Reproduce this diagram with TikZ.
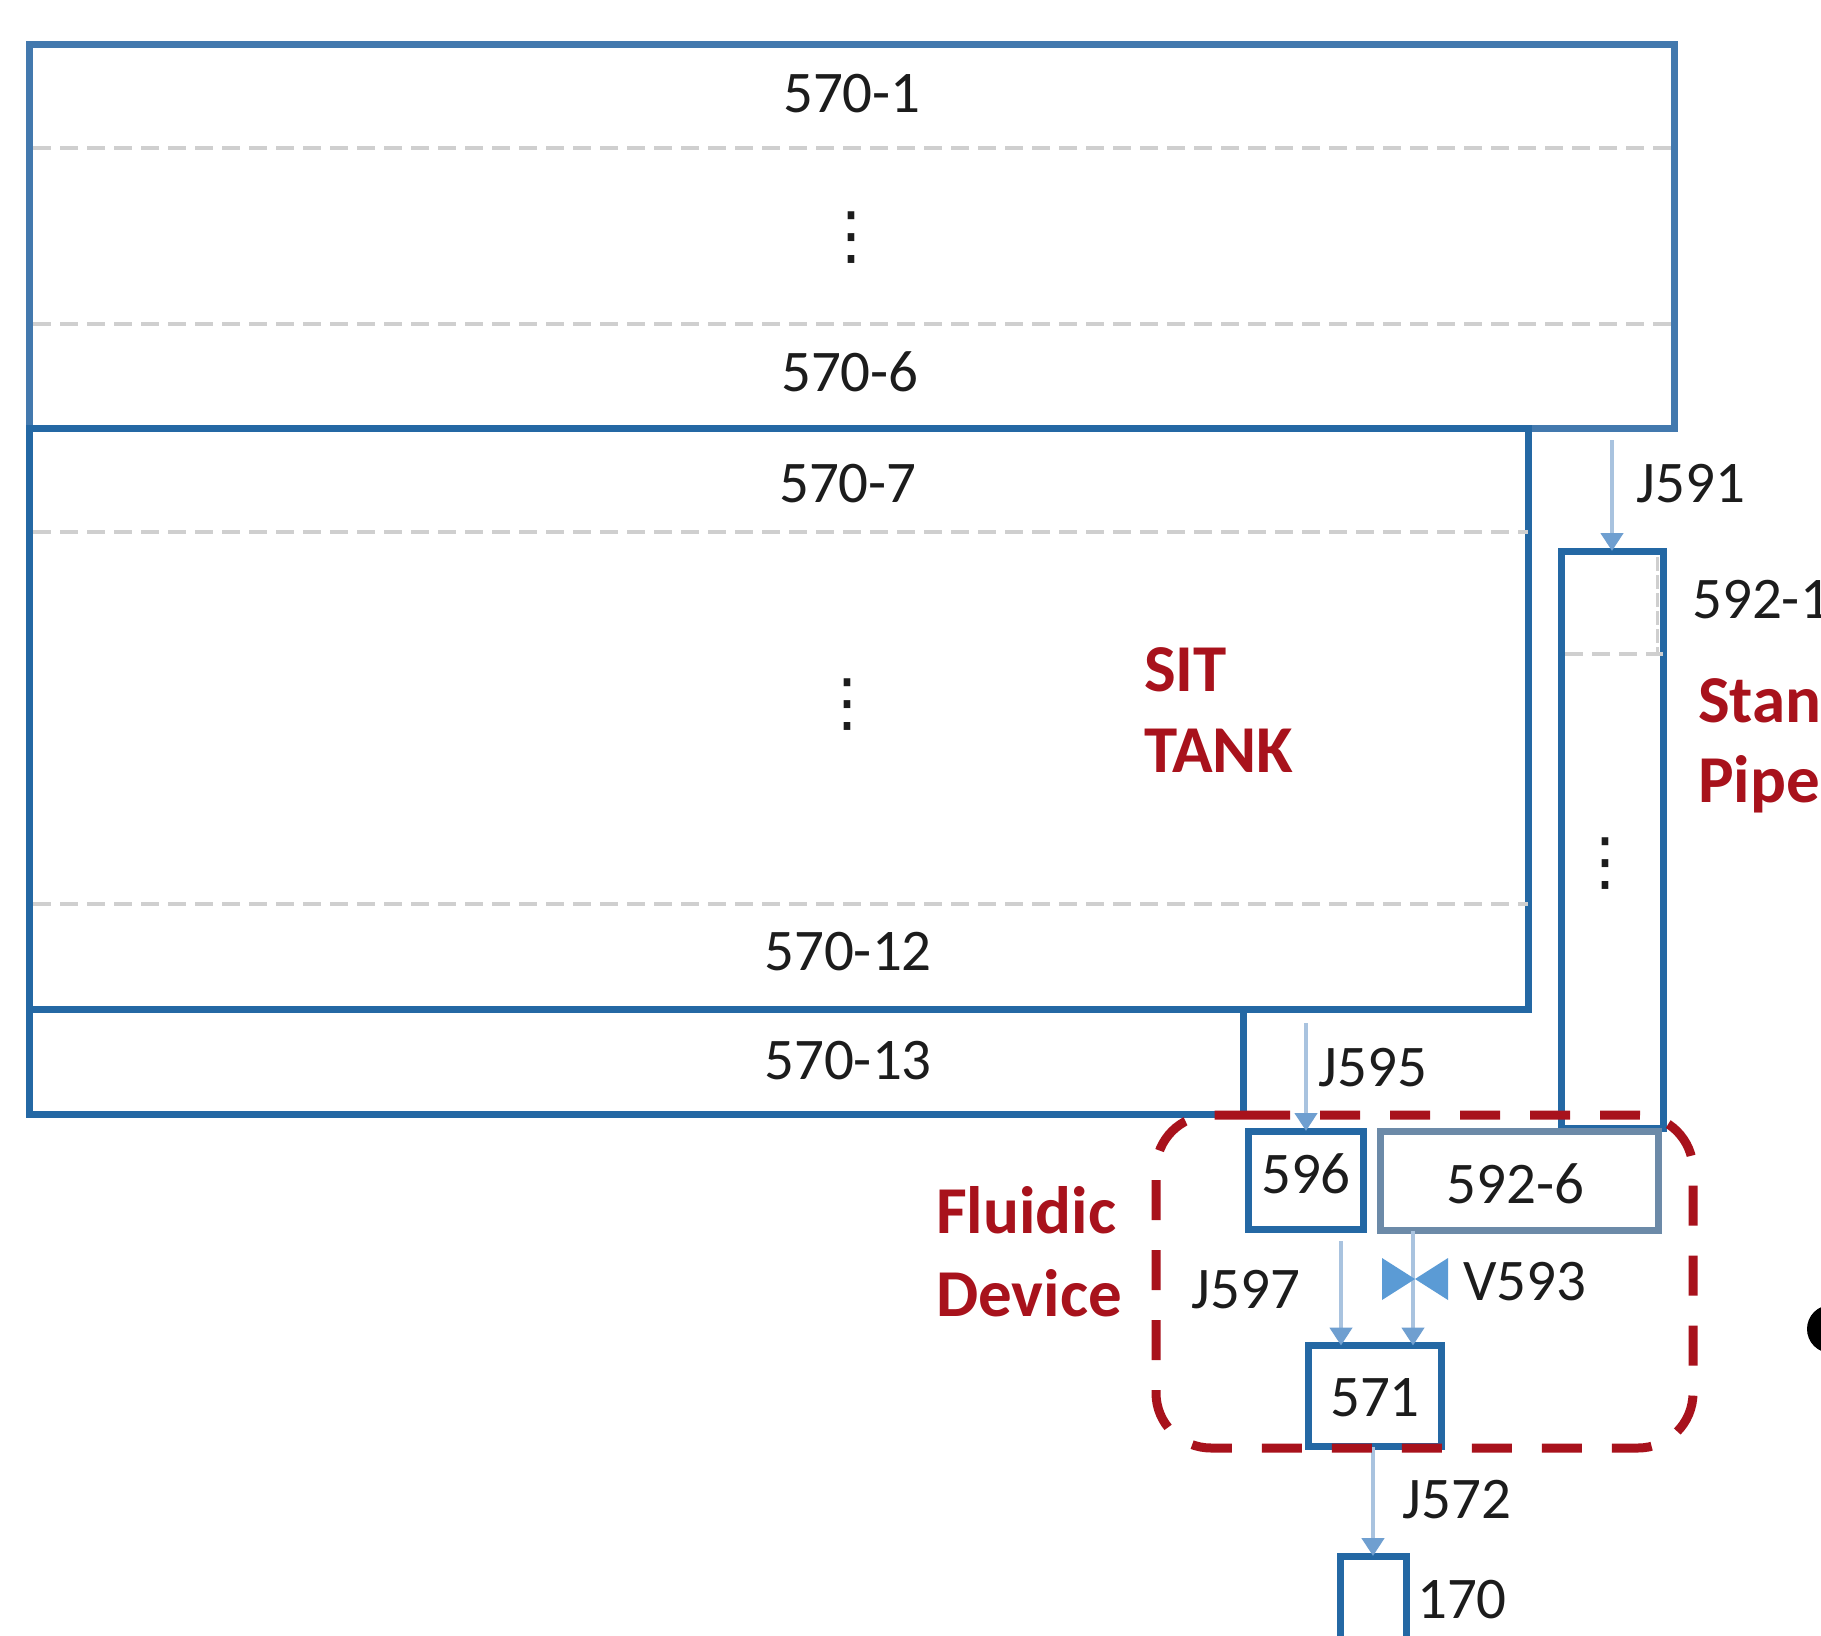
\documentclass[tikz,border=0pt]{standalone}
\usepackage{xcolor}
\usepackage{fontspec}
\setmainfont{Carlito}
\newfontfamily\dotsfont{DejaVu Sans}
\usetikzlibrary{arrows.meta,positioning,calc}
\definecolor{sitBlue}{HTML}{2468A4}
\definecolor{sitSoftBlue}{HTML}{4379AE}
\definecolor{sitGreyBlue}{HTML}{6C8AA8}
\definecolor{sitFlow}{HTML}{A9C3DF}
\definecolor{sitTip}{HTML}{6F9FD0}
\definecolor{sitValve}{HTML}{5B9BD5}
\definecolor{sitRed}{HTML}{A8121C}
\definecolor{sitDash}{HTML}{CFCFCF}
\definecolor{sitInk}{HTML}{1C1C1C}
\tikzset{
  tankblock/.style={rectangle,draw=sitBlue,line width=7pt,inner sep=0pt,outer sep=0pt,anchor=north west},
  portblock/.style={tankblock,anchor=center,font=\fontsize{59}{70}\selectfont,text=sitInk},
  tanklabel/.style={inner sep=0pt,font=\fontsize{59}{70}\selectfont,text=sitInk},
  redlabel/.style={inner sep=0pt,anchor=west,font=\fontsize{67}{80}\selectfont\bfseries,text=sitRed},
  tankdots/.style={inner sep=0pt,font=\dotsfont\fontsize{64}{70}\selectfont,text=sitInk},
  layerline/.style={draw=sitDash,line width=3.5pt,dash pattern=on 18pt off 9pt},
  flowarrow/.style={-{Triangle[length=18pt,width=22pt,color=sitTip]},draw=sitFlow,line width=4.5pt},
  fluidicbox/.style={draw=sitRed,line width=9pt,dash pattern=on 40pt off 30pt,rounded corners=55pt}
}

\begin{document}
\begin{tikzpicture}[x=1pt,y=-1pt]
  \path[use as bounding box,clip] (0,0) rectangle (1821,1636);
  \fill[white] (0,0) rectangle (1821,1636);
  % tank
  \node[tankblock, draw=sitSoftBlue, minimum width=1645pt, minimum height=384pt] (tankTop) at (29,44) {};
  \node[tankblock, minimum width=1499pt, minimum height=581pt, below=0pt of tankTop.south west, anchor=north west] (tankMid) {};
  \node[tankblock, minimum width=1214pt, minimum height=105pt, below=0pt of tankMid.south west, anchor=north west] (tankLow) {};
  \coordinate (lineA) at (33,148);
  \coordinate (lineB) at (33,324);
  \coordinate (lineC) at (33,532);
  \coordinate (lineD) at (33,904);
  \draw[layerline] (lineA) -- (lineA -| tankTop.east);
  \draw[layerline] (lineB) -- (lineB -| tankTop.east);
  \draw[layerline] (lineC) -- (lineC -| tankMid.east);
  \draw[layerline] (lineD) -- (lineD -| tankMid.east);
  \node[tanklabel] (lab1) at (852,94) {570-1};
  \node[tankdots] (dotsA) at (851,238) {⋮};
  \node[tanklabel] (lab6) at (850,372) {570-6};
  \node[tanklabel] (lab7) at (848,484) {570-7};
  \node[tankdots] (dotsB) at (847,705) {⋮};
  \node[tanklabel] (lab12) at (848,952) {570-12};
  \node[tanklabel] (lab13) at (848,1061) {570-13};
  \node[redlabel] (sitA) at (1144,670) {SIT};
  \node[redlabel, below=36pt of sitA.south west, anchor=north west] (sitB) {TANK};
  % stand pipe
  \node[tankblock, minimum width=102pt, minimum height=577pt] (pipe) at (1561,551) {};
  \coordinate (pipeLine) at (1565,654);
  \coordinate (pipeSide) at (1657,557);
  \draw[layerline] (pipeLine) -- (pipeLine -| pipe.east);
  \draw[layerline,line width=3pt,dash pattern=on 14pt off 4pt] (pipeSide) -- (pipeSide |- pipeLine);
  \node[tankdots] (dotsC) at (1605,864) {⋮};
  \node[tanklabel, anchor=west] (lab592a) at (1692,600) {592-1};
  \node[redlabel] (pipeA) at (1698,701) {Stan};
  \node[redlabel] (pipeB) at (1698,784) {Pipe};
  % fluidic device
  \node[portblock, minimum width=115pt, minimum height=98pt] (box596) at (1306,1180) {\raisebox{12pt}{596}};
  \node[portblock, draw=sitGreyBlue, minimum width=278pt, minimum height=99pt] (box592) at (1519,1181) {\raisebox{-22pt}[0pt][0pt]{592-6}\kern7pt};
  \node[portblock, minimum width=133pt, minimum height=101pt] (box571) at (1375,1396) {\raisebox{-20pt}[0pt][0pt]{571}};
  \node[portblock, minimum width=66pt, minimum height=120pt] (box170) at (1373,1616) {};
  \node[tanklabel] (lab170) at (1462,1600) {170};
  \coordinate (valve) at (1415,1279);
  \coordinate (j597) at (1341,1240);
  \coordinate (j593) at (1413,1240);
  \draw[flowarrow, shorten <=12pt] (pipe.north |- tankTop.south) -- (pipe.north);
  \draw[flowarrow, shorten <=14pt] (box596.north |- tankMid.south) -- (box596.north);
  \draw[flowarrow, shorten <=12pt] (j597 |- box596.south) -- (j597 |- box571.north);
  \draw[flowarrow] (j593 |- box592.south) -- (j593 |- box571.north);
  \draw[flowarrow] (box170.north |- box571.south) -- (box170.north);
  \fill[sitValve] ($(valve)+(-33,-21)$) -- ($(valve)+(33,21)$) -- ($(valve)+(33,-21)$) -- ($(valve)+(-33,21)$) -- cycle;
  \node[tanklabel] (j591) at (1691,484) {J591};
  \node[tanklabel] (j595) at (1373,1068) {J595};
  \node[tanklabel] (j597lab) at (1246,1290) {J597};
  \node[tanklabel] (v593) at (1525,1282) {V593};
  \node[tanklabel] (j572) at (1457,1500) {J572};
  \node[redlabel] (fluidA) at (936,1210) {Fluidic};
  \node[redlabel] (fluidB) at (936,1293) {Device};
  \coordinate (fluidStart) at (1250,1115);
  \coordinate (fluidNW) at (1156,1115);
  \coordinate (fluidSE) at (1693,1448);
  \draw[fluidicbox] (fluidStart) -| (fluidSE) -| (fluidNW) -- (fluidStart);
  \node[circle, fill=black, minimum size=48pt, inner sep=0pt] (edgeDot) at (1831,1329) {};
\end{tikzpicture}
\end{document}
